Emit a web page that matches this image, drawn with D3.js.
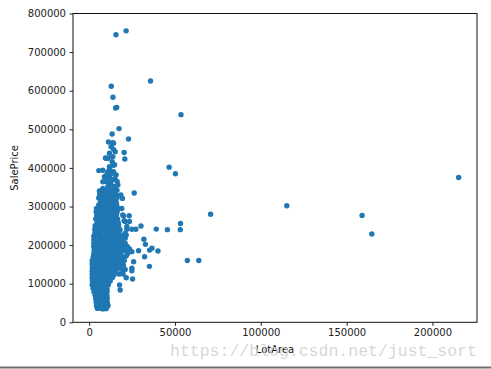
<!DOCTYPE html>
<html><head><meta charset="utf-8">
<script src="https://cdn.jsdelivr.net/npm/d3@7"></script>
<style>
html,body{margin:0;padding:0;background:#fff;}
svg{display:block;font-family:"DejaVu Sans",sans-serif;}
</style></head>
<body><svg id="chart" width="491" height="369"></svg>
<script>
const xTicks = [0, 50000, 100000, 150000, 200000];
const yTicks = [0, 100000, 200000, 300000, 400000, 500000, 600000, 700000, 800000];
const xLabel = "LotArea";
const yLabel = "SalePrice";
const watermark = "https://blog.csdn.net/just_sort";

// [LotArea, SalePrice]
const farPoints = [[39104,241500],[45600,240000],[53107,240000],[53227,256000],[57200,160000],[63887,160000],[70761,280000],[115149,302000],[159000,277000],[164660,228950],[215245,375000]];

const upperPoints = [[15623,745000],[21535,755000],[35760,625000],[12919,611657],[13891,582933],[15431,555000],[16056,556581],[53504,538000],[17423,501837],[13400,488000],[22950,475000],[11260,467000],[13800,465000],[12800,455000],[14200,448000],[20400,440000],[20800,423000],[11850,438000],[11100,425000],[13800,429000],[9900,425000],[13400,416000],[14200,407000],[11850,403000],[5650,393000],[8000,394000],[10900,390000],[14200,390000],[15750,382000],[8900,377000],[11850,377000],[13800,369000],[9900,364000],[8000,364000],[16750,356000],[10900,351000],[8000,347000],[15750,343000],[12800,338000],[46589,402000],[50271,385000],[12000,396000],[13000,385000],[10500,384000],[15000,372000],[12500,360000],[14500,352000],[13200,347000],[6000,340000],[11000,368000],[16300,365000],[14200,464000],[15200,442000],[9500,425700],[14800,408000],[10300,381000]];

const corePoints = [
[7800,340000],[10100,341000],[12400,339000],[14700,340000],[16200,342000],
[6200,331000],[8900,330000],[11200,332000],[13500,331000],[15800,330000],
[5600,322000],[7700,323000],[10000,322000],[12300,321000],[14600,322000],[16300,323000],
[6600,313000],[8800,314000],[11100,313000],[13400,312000],[15700,313000],
[5600,304000],[7700,305000],[10000,304000],[12300,303000],[14600,304000],[16000,305000],
[4300,295000],[6600,296000],[8900,295000],[11200,294000],[13500,295000],[15800,296000],
[4100,286000],[5500,287000],[7800,286000],[10100,285000],[12400,286000],[14700,287000],[16300,286000],
[4500,277000],[6700,278000],[9000,277000],[11300,276000],[13600,277000],[15900,278000],
[3800,268000],[5600,269000],[7900,268000],[10200,267000],[12500,268000],[14800,269000],[16600,268000],
[4600,259000],[6800,260000],[9100,259000],[11400,258000],[13700,259000],[16000,260000],[17000,258000],
[3500,250000],[5700,251000],[8000,250000],[10300,249000],[12600,250000],[14900,251000],[17200,250000],
[3300,241000],[4600,242000],[6900,241000],[9200,240000],[11500,241000],[13800,242000],[16100,241000],[18000,240000],
[3400,232000],[5800,233000],[8100,232000],[10400,231000],[12700,232000],[15000,233000],[17300,232000],
[2700,223000],[4600,224000],[6900,223000],[9200,222000],[11500,223000],[13800,224000],[16100,223000],[18400,222000],
[2800,214000],[5700,215000],[8000,214000],[10300,213000],[12600,214000],[14900,215000],[17200,214000],[18700,213000],
[2700,205000],[4500,206000],[6800,205000],[9100,204000],[11400,205000],[13700,206000],[16000,205000],[18300,204000],
[2700,196000],[5600,197000],[7900,196000],[10200,195000],[12500,196000],[14800,197000],[17100,196000],[18700,195000],
[2900,187000],[4500,188000],[6800,187000],[9100,186000],[11400,187000],[13700,188000],[16000,187000],[18300,186000],
[2700,178000],[5600,179000],[7900,178000],[10200,177000],[12500,178000],[14800,179000],[17100,178000],
[2400,169000],[4500,170000],[6800,169000],[9100,168000],[11400,169000],[13700,170000],[16000,169000],[17500,168000],
[1800,160000],[3400,161000],[5600,160000],[7900,159000],[10200,160000],[12500,161000],[14800,160000],[16900,159000],
[1750,151000],[4400,152000],[6700,151000],[9000,150000],[11300,151000],[13600,152000],[15900,151000],
[1900,142000],[3300,143000],[5600,142000],[7900,141000],[10200,142000],[12500,143000],[14800,142000],[15800,141000],
[1750,133000],[4400,134000],[6700,133000],[9000,132000],[11300,133000],[13600,134000],[15500,133000],
[1800,124000],[3300,125000],[5600,124000],[7900,123000],[10200,124000],[12500,125000],[14600,124000],
[1750,115000],[4400,116000],[6700,115000],[9000,114000],[11300,115000],[13600,116000],
[1900,106000],[3300,107000],[5600,106000],[7900,105000],[10200,106000],[12300,107000],
[1750,97000],[4400,98000],[6700,97000],[9000,96000],[11200,97000],
[2300,88000],[3600,89000],[5800,88000],[8100,87000],[10400,88000],
[2800,79000],[4800,80000],[7000,79000],[9300,78000],[10500,80000],
[3500,70000],[5900,71000],[8200,70000],[10400,69000],
[3800,61000],[4800,62000],[7100,61000],[9400,60000],[10500,61000],
[4100,52000],[6000,53000],[8300,52000],[10600,51000],
[4300,43000],[5100,44000],[7400,43000],[9700,42000],[11000,43000],
[4800,36000],[6500,37000],[8400,35000],[9800,36000]
];

const sidePoints = [[26250,335000],[19400,321000],[18500,330000],[17100,295000],[19000,295000],[20000,276000],[23300,276000],[21000,261000],[23500,261000],[22000,241000],[24900,241000],[27200,241000],[30200,249500],[21600,226000],[21000,218000],[31900,215000],[32800,202000],[22000,196000],[21600,185500],[24900,183000],[28800,185500],[35200,187000],[36600,191700],[40094,184750],[32300,170000],[35133,145000],[25900,157000],[24900,140000],[24900,133700],[21600,115500],[25300,112000],[17700,96600],[18100,83700],[19600,278000],[20400,263000],[22000,248000],[21000,231000],[19600,218000],[20400,200000],[22300,196000],[19000,183000],[21600,172000],[19000,161000],[20000,148000],[21000,137000],[19600,135000],[19500,225000],[20000,190000],[19200,170000],[18500,150000],[19800,125000],[17500,125000],[18000,140000],[20500,160000],[21000,205000],[22500,178000],[23500,190000]];

const lowPoints = [[7500,34900],[9900,35311],[5000,37900],[8500,39300],[6600,40000],[10000,39000],[4800,45000],[7000,52000]];

const allPoints = [].concat(corePoints, lowPoints, sidePoints, upperPoints, farPoints);

const svg = d3.select("#chart");
const L = 73, R = 477, T = 13.5, B = 322.3;
const x = d3.scaleLinear().domain([-9397, 225942]).range([L, R]);
const y = d3.scaleLinear().domain([0, 800000]).range([B, T]);

// points
svg.append("g").selectAll("circle").data(allPoints).join("circle")
  .attr("cx", d => x(d[0])).attr("cy", d => y(d[1])).attr("r", 2.7)
  .attr("fill", "#1f77b4");

// axes
const xAxis = svg.append("g").attr("transform", `translate(0,${B})`)
  .call(d3.axisBottom(x).tickValues(xTicks).tickFormat(d3.format("d")).tickSize(3.5).tickPadding(3.5).tickSizeOuter(0));
const yAxis = svg.append("g").attr("transform", `translate(${L},0)`)
  .call(d3.axisLeft(y).tickValues(yTicks).tickFormat(d3.format("d")).tickSize(3.5).tickPadding(3.5).tickSizeOuter(0));
[xAxis, yAxis].forEach(a => {
  a.selectAll("text").attr("font-size", 10).attr("fill", "#222").attr("font-family", "DejaVu Sans");
  a.selectAll("line").attr("stroke", "#222");
  a.select(".domain").remove();
});

// frame
svg.append("rect").attr("x", L).attr("y", T).attr("width", R - L).attr("height", B - T)
  .attr("fill", "none").attr("stroke", "#111").attr("stroke-width", 1);

// labels
svg.append("text").attr("x", (L + R) / 2).attr("y", 352.5).attr("text-anchor", "middle")
  .attr("font-size", 10).attr("fill", "#111").text(xLabel);
svg.append("text").attr("transform", `translate(18,${(T + B) / 2}) rotate(-90)`).attr("text-anchor", "middle")
  .attr("font-size", 10).attr("fill", "#111").text(yLabel);

// watermark
svg.append("text").attr("x", 170).attr("y", 355.5)
  .attr("font-family", "Liberation Mono, monospace").attr("font-size", 16.5)
  .attr("fill", "#cfcfcf").attr("fill-opacity", 0.85).text(watermark);

// bottom border line
svg.append("rect").attr("x", 0).attr("y", 366.5).attr("width", 491).attr("height", 2).attr("fill", "#6e6e6e");
</script></body></html>
